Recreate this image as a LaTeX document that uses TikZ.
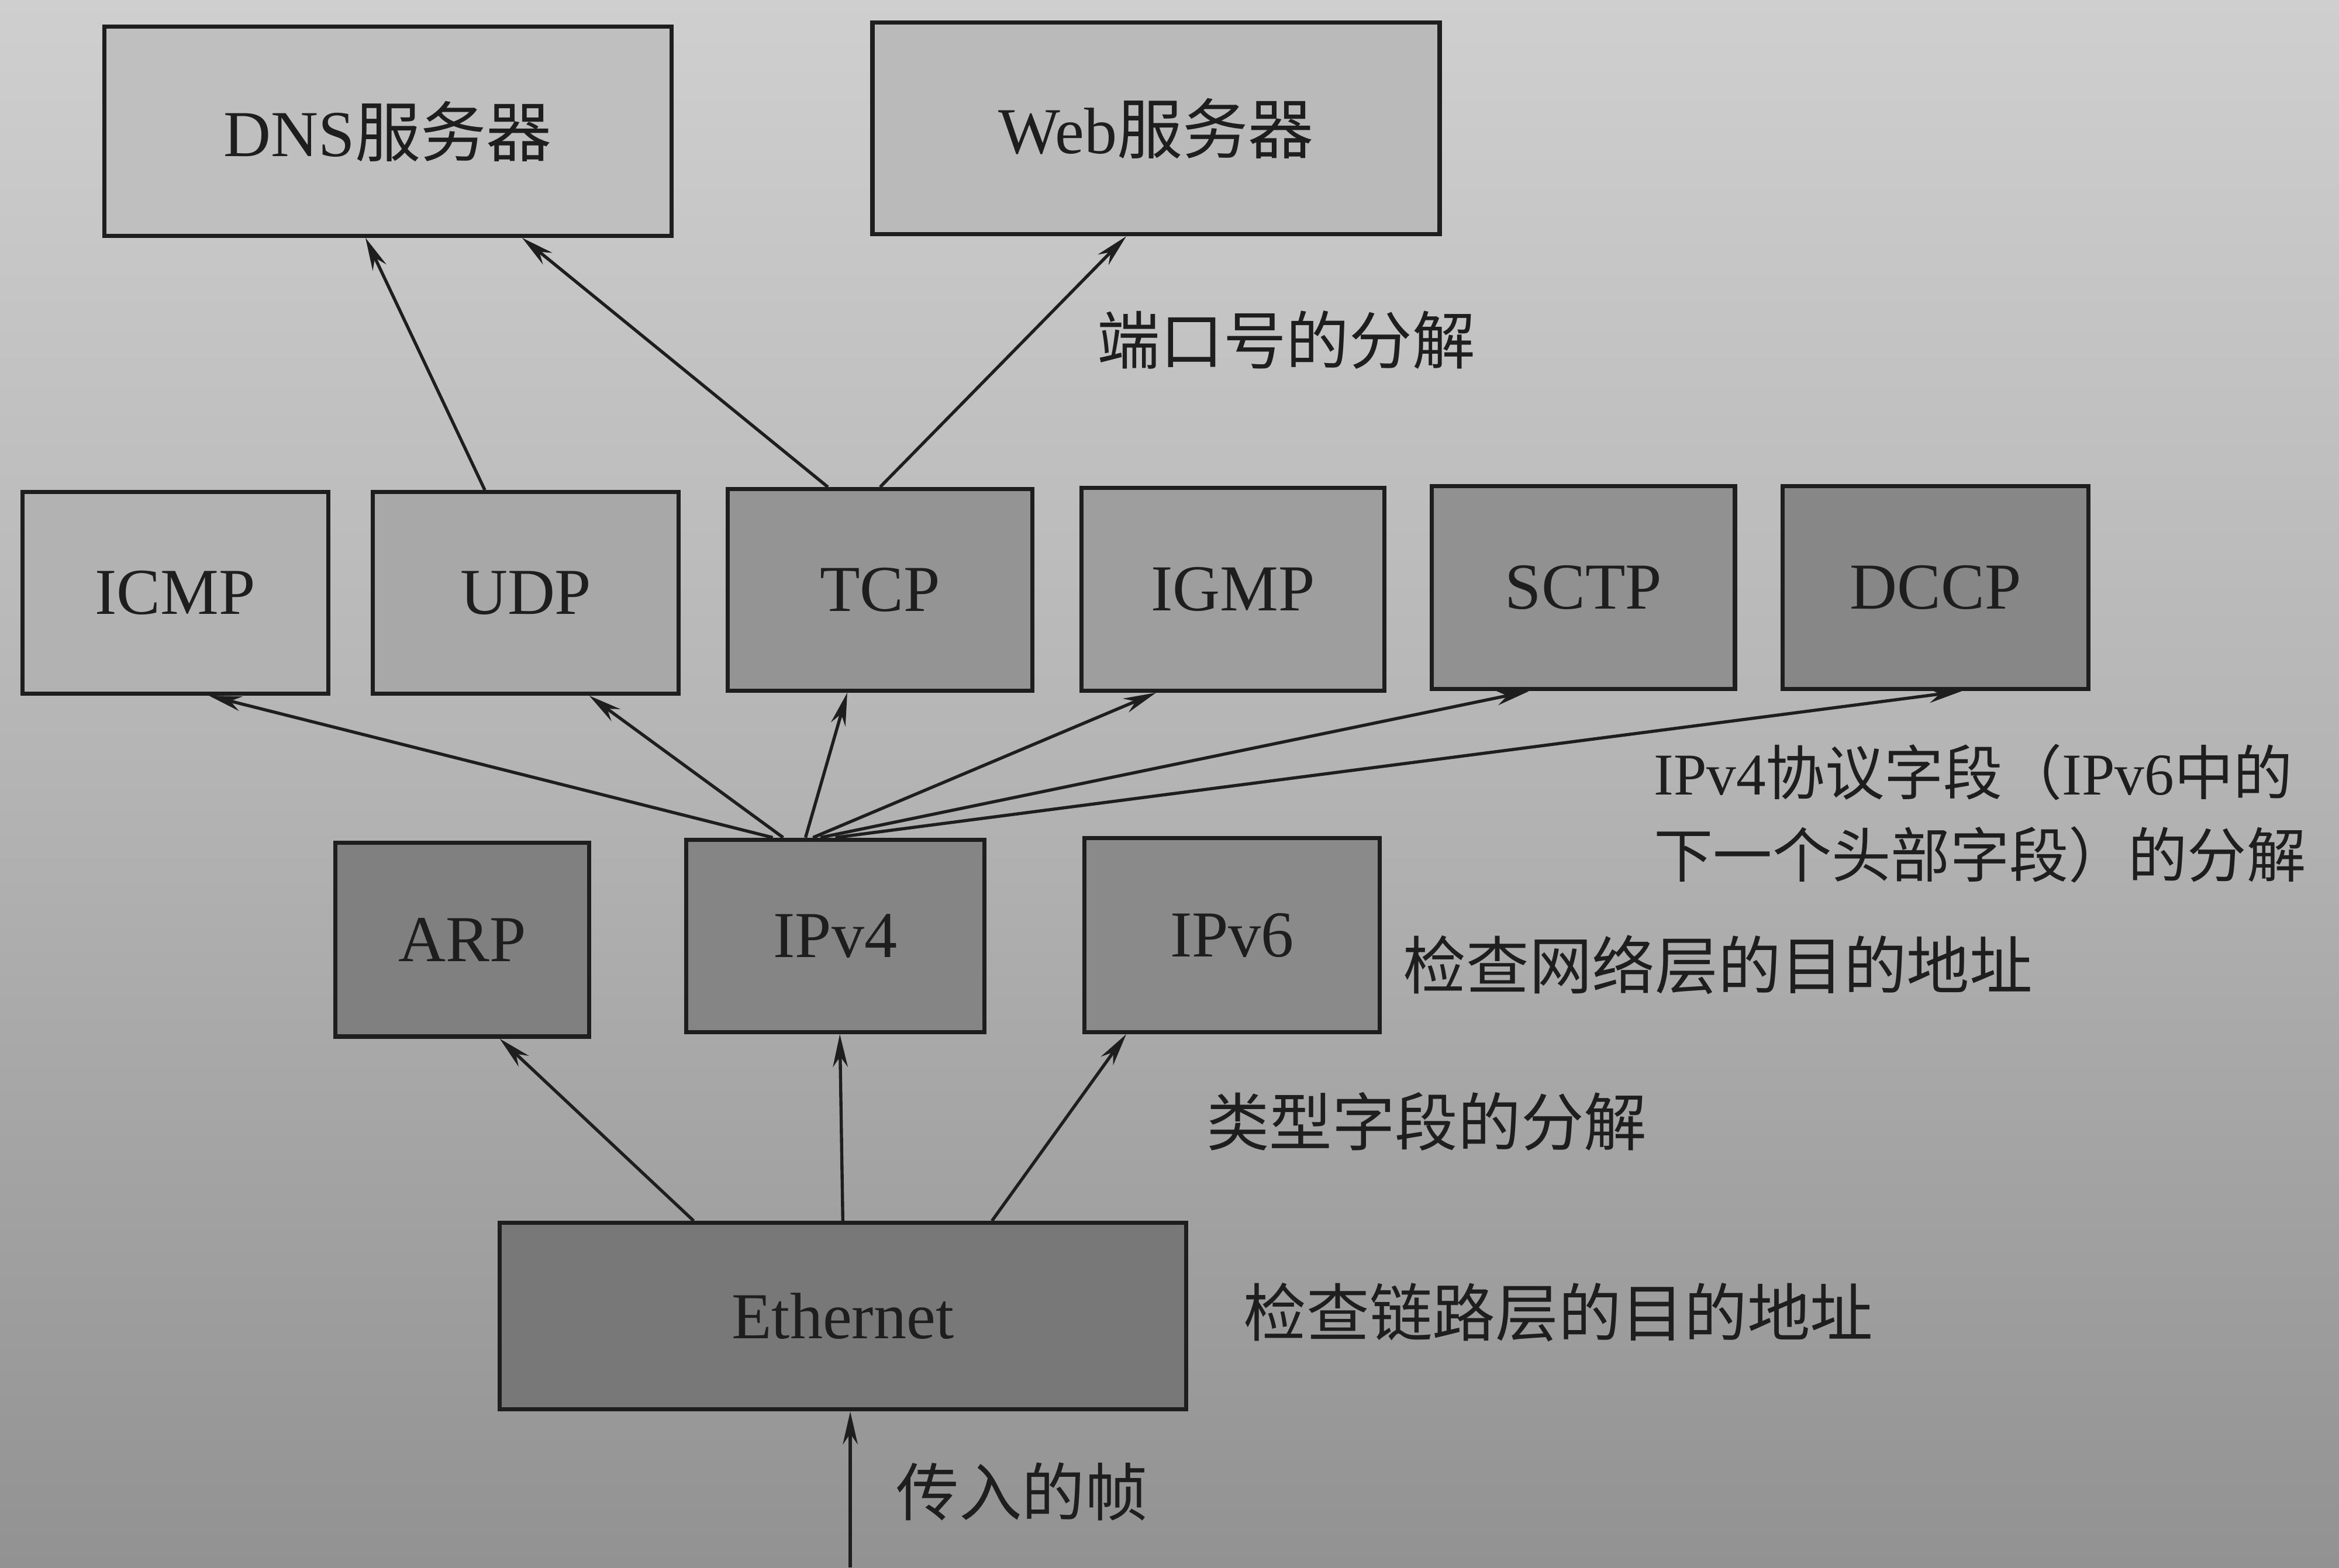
\documentclass[tikz,border=0pt]{standalone}
\usepackage{fontspec}
\setmainfont{Liberation Serif}
\newfontfamily\cjk{Noto Sans CJK SC}
\usetikzlibrary{arrows.meta,calc}
\definecolor{bgtop}{HTML}{CFCFCF}
\definecolor{bgmid}{HTML}{B4B4B4}
\definecolor{bgbot}{HTML}{929292}
\definecolor{ink}{HTML}{1E1E1E}
\begin{document}
\begin{tikzpicture}[x=0.01cm,y=-0.01cm,
  box/.style={draw=ink, line width=0.8pt, inner sep=0pt, text=ink,
    font=\fontsize{12.5}{14}\selectfont},
  arr/.style={-{Stealth[length=0.22cm,width=0.1cm]}, line width=0.6pt, draw=ink},
  lab/.style={anchor=west, inner sep=0pt, text=ink, font=\cjk\fontsize{12}{14}\selectfont},
  labs/.style={lab, font=\cjk\fontsize{11.3}{13}\selectfont}]
\useasboundingbox (0,0) rectangle (1568,1051);
\clip (0,0) rectangle (1568,1051);
\shade[top color=bgtop, bottom color=bgmid] (0,0) rectangle (1568,520);
\shade[top color=bgmid, bottom color=bgbot] (0,520) rectangle (1568,1051);

% top servers
\node[box, fill=black!25, minimum width=3.8cm, minimum height=1.4cm] (dns) at (260,88) {DNS{\cjk 服务器}};
\node[box, fill=black!27, minimum width=3.8cm, minimum height=1.42cm] (web) at (775,86) {Web{\cjk 服务器}};

% transport layer
\node[box, fill=black!30, minimum width=2.05cm, minimum height=1.35cm] (icmp) at (117.5,397.5) {ICMP};
\node[box, fill=black!34, minimum width=2.05cm, minimum height=1.35cm] (udp) at (352.5,397.5) {UDP};
\node[box, fill=black!42, minimum width=2.04cm, minimum height=1.35cm] (tcp) at (590,395.5) {TCP};
\node[box, fill=black!38, minimum width=2.03cm, minimum height=1.36cm] (igmp) at (826.5,395) {IGMP};
\node[box, fill=black!43, minimum width=2.03cm, minimum height=1.36cm] (sctp) at (1061.5,394) {SCTP};
\node[box, fill=black!47, minimum width=2.05cm, minimum height=1.36cm] (dccp) at (1297.5,394) {DCCP};

% network layer
\node[box, fill=black!50, minimum width=1.7cm, minimum height=1.3cm] (arp) at (310,630) {ARP};
\node[box, fill=black!48, minimum width=2.0cm, minimum height=1.29cm] (ipv4) at (560,627.5) {IPv4};
\node[box, fill=black!46, minimum width=1.98cm, minimum height=1.3cm] (ipv6) at (826,627) {IPv6};

% link layer
\node[box, fill=black!53, minimum width=4.6cm, minimum height=1.25cm] (eth) at (565,882.5) {Ethernet};

% labels
\node[lab] (l1) at (735,228) {端口号的分解};
\node[labs] (l2) at (1108,518) {{\rmfamily IPv4}协议字段（{\rmfamily IPv6}中的};
\node[labs] (l3) at (1108,573) {下一个头部字段）的分解};
\node[lab] (l4) at (940,647) {检查网络层的目的地址};
\node[lab] (l5) at (808,752) {类型字段的分解};
\node[lab] (l6) at (833,880) {检查链路层的目的地址};
\node[lab] (l7) at (600,1000) {传入的帧};

% arrows to servers
\draw[arr] ($(udp.north)+(-27.5,0)$) -- ($(dns.south)+(-15,0)$);
\draw[arr] ($(tcp.north)+(-35,0)$) -- ($(dns.south)+(90,0)$);
\draw[arr] ($(tcp.north)+(0,0)$) -- ($(web.south)+(-20,0)$);

% arrows from IPv4
\draw[arr] ($(ipv4.north)+(-42,0)$) -- ($(icmp.south)+(22.5,0)$);
\draw[arr] ($(ipv4.north)+(-35,0)$) -- ($(udp.south)+(42.5,0)$);
\draw[arr] ($(ipv4.north)+(-20,0)$) -- ($(tcp.south)+(-22,0)$);
\draw[arr] ($(ipv4.north)+(-15,0)$) -- ($(igmp.south)+(-51.5,0)$);
\draw[arr] ($(ipv4.north)+(-10,0)$) -- ($(sctp.south)+(-36.5,0)$);
\draw[arr] ($(ipv4.north)+(0,0)$) -- ($(dccp.south)+(17.5,0)$);

% arrows from Ethernet
\draw[arr] ($(eth.north)+(-100,0)$) -- ($(arp.south)+(25,0)$);
\draw[arr] ($(eth.north)+(0,0)$) -- ($(ipv4.south)+(3,0)$);
\draw[arr] ($(eth.north)+(100,0)$) -- ($(ipv6.south)+(-71,0)$);

% incoming frame
\coordinate (in) at (570,1051);
\draw[arr] (in) -- ($(eth.south)+(5,0)$);
\end{tikzpicture}
\end{document}
